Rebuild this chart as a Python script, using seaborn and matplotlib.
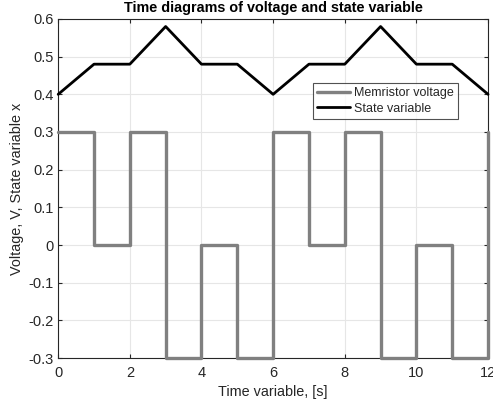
import matplotlib
matplotlib.use("Agg")
import matplotlib.pyplot as plt
import seaborn as sns
import pandas as pd

# Data
t_voltage = [0, 1, 2, 3, 4, 5, 6, 7, 8, 9, 10, 11, 12]
voltage = [0.3, 0.0, 0.3, -0.3, 0.0, -0.3, 0.3, 0.0, 0.3, -0.3, 0.0, -0.3, 0.3]
t_state = [0, 1, 2, 3, 4, 5, 6, 7, 8, 9, 10, 11, 12]
state = [0.40, 0.48, 0.48, 0.58, 0.48, 0.48, 0.40, 0.48, 0.48, 0.58, 0.48, 0.48, 0.40]
x_ticks = [0, 2, 4, 6, 8, 10, 12]
y_ticks = [-0.3, -0.2, -0.1, 0, 0.1, 0.2, 0.3, 0.4, 0.5, 0.6]
y_tick_labels = ["-0.3", "-0.2", "-0.1", "0", "0.1", "0.2", "0.3", "0.4", "0.5", "0.6"]

sns.set_style("white")
plt.rcParams['font.family'] = ['Liberation Sans', 'DejaVu Sans']

fig = plt.figure(figsize=(4.93, 4.08), dpi=100)
ax = fig.add_axes([0.118, 0.1225, 0.872, 0.831])

dv = pd.DataFrame({"t": t_voltage, "v": voltage})
ds = pd.DataFrame({"t": t_state, "x": state})

sns.lineplot(data=dv, x="t", y="v", ax=ax, color="#808080", linewidth=2.4,
             drawstyle="steps-post", label="Memristor voltage", clip_on=False, zorder=3)
sns.lineplot(data=ds, x="t", y="x", ax=ax, color="black", linewidth=2.0,
             label="State variable", clip_on=False, zorder=4)

ax.set_xlim(0, 12)
ax.set_ylim(-0.3, 0.6)
ax.set_xticks(x_ticks)
ax.set_xticklabels([str(v) for v in x_ticks])
ax.set_yticks(y_ticks)
ax.set_yticklabels(y_tick_labels)
ax.grid(True, color="#e6e6e6", linewidth=0.8)
ax.set_axisbelow(True)
for s in ax.spines.values():
    s.set_color("#262626")
    s.set_linewidth(0.8)
ax.tick_params(axis="both", colors="#262626", labelsize=10.5, direction="in", length=3,
               top=True, right=True, bottom=True, left=True)
ax.tick_params(axis="x", pad=6)
ax.set_xlabel("Time variable, [s]", fontsize=10.4, color="#262626", labelpad=3)
ax.set_ylabel("Voltage, V, State variable x", fontsize=10.4, color="#262626", labelpad=3)
ax.set_title("Time diagrams of voltage and state variable", fontsize=10.4,
             fontweight="bold", color="black", pad=5)

leg = ax.legend(loc="upper left", bbox_to_anchor=(0.593, 0.812), fontsize=9,
                frameon=True, fancybox=False, handlelength=2.6, handletextpad=0.3,
                borderpad=0.35, labelspacing=0.3, borderaxespad=0)
leg.get_frame().set_edgecolor("#262626")
leg.get_frame().set_linewidth(0.8)

fig.savefig("out.png", dpi=100)
